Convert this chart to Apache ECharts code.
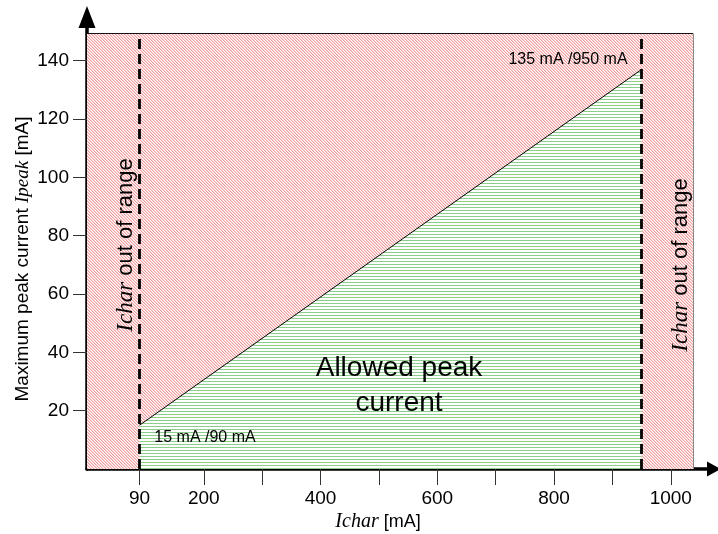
<!DOCTYPE html>
<html><head><meta charset="utf-8">
<script src="https://cdn.jsdelivr.net/npm/echarts@6/dist/echarts.min.js"></script>
<style>html,body{margin:0;padding:0;background:#fff}#c{width:718px;height:534px}</style>
</head><body><div id="c"></div>
<script>
// ---- data ----
const xTicks = [90, 200, 300, 400, 500, 600, 700, 800, 900, 1000];
const xLabels = [90, 200, 400, 600, 800, 1000];
const yTicks = [20, 40, 60, 80, 100, 120, 140];
const allowedLine = [[90, 15], [950, 137]];
const rangeLimits = [90, 950];
const frameEnd = [1038, 149.3];   // right / top edge of the plotted region
const axisMax = [1062, 151.2];    // axis extents (arrow bases)

// ---- patterns ----
function hatch(kind) {
  const n = 3;
  const c = document.createElement('canvas');
  c.width = n; c.height = n;
  const g = c.getContext('2d');
  g.fillStyle = '#ffffff'; g.fillRect(0, 0, n, n);
  if (kind === 'red') {
    for (let i = 0; i < n; i++) {
      g.fillStyle = 'rgb(242,158,158)';
      g.fillRect(i, i, 1, 1);
      g.fillStyle = 'rgb(250,212,212)';
      g.fillRect((i + 1) % n, i, 1, 1);
    }
  } else {
    g.fillStyle = 'rgb(138,206,138)';
    g.fillRect(0, 0, n, 1);
  }
  return { image: c, repeat: 'repeat' };
}
const redPat = hatch('red');
const greenPat = hatch('green');

const SANS = 'Liberation Sans';
const SERIF = 'Liberation Serif';

const chart = echarts.init(document.getElementById('c'), null, { renderer: 'canvas' });
chart.setOption({
  animation: false,
  backgroundColor: '#fff',
  grid: { left: 87, right: 11, top: 28, bottom: 65, outerBoundsMode: 'none' },
  xAxis: {
    type: 'value', min: 0, max: axisMax[0],
    axisLine: { show: true, onZero: false, lineStyle: { color: '#000', width: 3.5 },
      symbol: ['none', 'triangle'], symbolSize: [15, 14], symbolOffset: [0, 7] },
    axisTick: { show: true, customValues: xTicks, length: 16, lineStyle: { color: '#333', width: 1 } },
    axisLabel: { customValues: xLabels, margin: 20, fontSize: 19, color: '#000', fontFamily: SANS,
      formatter: v => String(v) },
    splitLine: { show: false }
  },
  yAxis: {
    type: 'value', min: 0, max: axisMax[1],
    axisLine: { show: true, onZero: false, lineStyle: { color: '#000', width: 3.5 },
      symbol: ['none', 'triangle'], symbolSize: [17, 22], symbolOffset: [0, 11] },
    axisTick: { show: true, customValues: yTicks, length: 14, lineStyle: { color: '#333', width: 1 } },
    axisLabel: { customValues: yTicks, margin: 18, fontSize: 19, color: '#000', fontFamily: SANS,
      formatter: v => String(v) },
    splitLine: { show: false }
  },
  series: [
    {
      type: 'line', data: [], z: 1, silent: true,
      markArea: {
        silent: true,
        itemStyle: { color: redPat, borderWidth: 0 },
        data: [[{ coord: [0, 0] }, { coord: [frameEnd[0], frameEnd[1]] }]]
      }
    },
    {
      type: 'line', data: allowedLine, z: 2, silent: true,
      symbol: 'none', showSymbol: false,
      lineStyle: { color: '#000', width: 1 },
      areaStyle: { color: greenPat, opacity: 1, origin: 'start' }
    },
    {
      type: 'line', data: [], z: 3, silent: true,
      markLine: {
        silent: true, symbol: ['none', 'none'], label: { show: false },
        data: [
          [{ coord: [rangeLimits[0], 0], lineStyle: { color: '#000', width: 2.8, type: [10, 5] } },
           { coord: [rangeLimits[0], frameEnd[1]] }],
          [{ coord: [rangeLimits[1], 0], lineStyle: { color: '#000', width: 2.8, type: [10, 5] } },
           { coord: [rangeLimits[1], frameEnd[1]] }],
          [{ coord: [0, frameEnd[1]], lineStyle: { color: '#111', width: 1, type: 'solid' } },
           { coord: [frameEnd[0], frameEnd[1]] }],
          [{ coord: [frameEnd[0], 0], lineStyle: { color: '#888', width: 1, type: 'solid' } },
           { coord: [frameEnd[0], frameEnd[1]] }]
        ]
      }
    }
  ],
  graphic: [
    { type: 'text', z: 100, x: 23, y: 259, rotation: Math.PI / 2,
      style: { text: 'Maximum peak current {i|Ipeak} [mA]', fontSize: 19, fontFamily: SANS, fill: '#000',
        align: 'center', verticalAlign: 'middle',
        rich: { i: { fontFamily: SERIF, fontStyle: 'italic', fontSize: 19, fill: '#000' } } } },
    { type: 'text', z: 100, x: 378, y: 522,
      style: { text: '{i|Ichar} [mA]', fontSize: 18, fontFamily: SANS, fill: '#000',
        align: 'center', verticalAlign: 'middle',
        rich: { i: { fontFamily: SERIF, fontStyle: 'italic', fontSize: 20, fill: '#000' } } } },
    { type: 'text', z: 100, x: 126, y: 245, rotation: Math.PI / 2,
      style: { text: '{i|Ichar} out of range', fontSize: 22, fontFamily: SANS, fill: '#000',
        align: 'center', verticalAlign: 'middle',
        rich: { i: { fontFamily: SERIF, fontStyle: 'italic', fontSize: 23, fill: '#000' } } } },
    { type: 'text', z: 100, x: 681, y: 265, rotation: Math.PI / 2,
      style: { text: '{i|Ichar} out of range', fontSize: 22, fontFamily: SANS, fill: '#000',
        align: 'center', verticalAlign: 'middle',
        rich: { i: { fontFamily: SERIF, fontStyle: 'italic', fontSize: 23, fill: '#000' } } } },
    { type: 'text', z: 100, x: 399, y: 386,
      style: { text: 'Allowed peak\ncurrent', fontSize: 28, lineHeight: 35, fontFamily: SANS, fill: '#000',
        align: 'center', verticalAlign: 'middle' } },
    { type: 'text', z: 100, x: 568, y: 59.5,
      style: { text: '135 mA /950 mA', fontSize: 16, fontFamily: SANS, fill: '#000',
        align: 'center', verticalAlign: 'middle' } },
    { type: 'text', z: 100, x: 205, y: 438,
      style: { text: '15 mA /90 mA', fontSize: 16, fontFamily: SANS, fill: '#000',
        align: 'center', verticalAlign: 'middle' } }
  ]
});
</script></body></html>
